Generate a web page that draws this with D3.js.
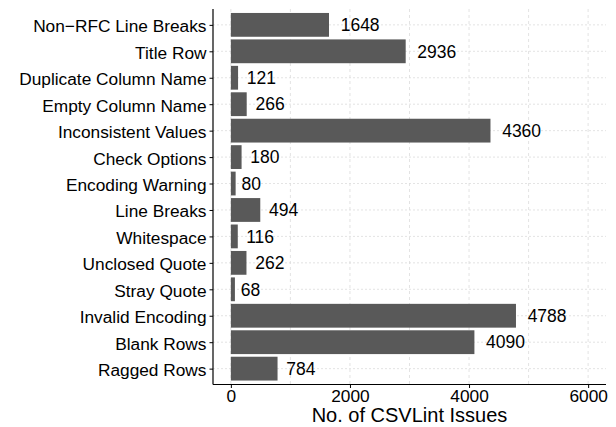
<!DOCTYPE html>
<html><head><meta charset="utf-8">
<script src="https://cdn.jsdelivr.net/npm/d3@7"></script>
<style>body{margin:0;background:#fff}svg{display:block}</style>
</head><body>
<svg id="c" width="616" height="427" font-family="Liberation Sans"></svg>
<script>
const categories = ["Non\u2212RFC Line Breaks","Title Row","Duplicate Column Name","Empty Column Name","Inconsistent Values","Check Options","Encoding Warning","Line Breaks","Whitespace","Unclosed Quote","Stray Quote","Invalid Encoding","Blank Rows","Ragged Rows"];
const values = [1648,2936,121,266,4360,180,80,494,116,262,68,4788,4090,784];
const xTicks = [0,2000,4000,6000];
const xMinor = [1000,3000,5000];
const xTitle = "No. of CSVLint Issues";
const FONT = "Liberation Sans";

const svg = d3.select("#c");
const L=213, R=606, T=9, B=384.5;
const x = d3.scaleLinear().domain([-300,6300]).range([L,R]);
const n = categories.length;
const step = (B-T)/(n-1+1.2);
const y = d3.scalePoint().domain(categories).range([T+0.6*step, B-0.6*step]);
const bh = step*0.9;

const g = svg.append("g");
// grid
g.selectAll(".gm").data(xMinor.concat(xTicks)).join("line")
  .attr("x1",d=>x(d)).attr("x2",d=>x(d)).attr("y1",T).attr("y2",B)
  .attr("stroke","#dcdcdc").attr("stroke-width",0.8).attr("stroke-dasharray","3,3");
g.selectAll(".gh").data(categories).join("line")
  .attr("x1",L).attr("x2",R).attr("y1",d=>y(d)).attr("y2",d=>y(d))
  .attr("stroke","#dcdcdc").attr("stroke-width",0.8).attr("stroke-dasharray","2,2");
// bars
g.selectAll(".bar").data(values).join("rect")
  .attr("x",x(0)).attr("y",(d,i)=>y(categories[i])-bh/2)
  .attr("width",d=>x(d)-x(0)).attr("height",bh).attr("fill","#595959");
// labels
g.selectAll(".lab").data(values).join("text")
  .attr("x",d=>x(d)).attr("y",(d,i)=>y(categories[i]))
  .attr("dy","0.36em").attr("font-size",17.5).attr("font-family",FONT).attr("fill","#000")
  .text(d=>d)
  .each(function(){ const w=this.getComputedTextLength(); d3.select(this).attr("dx", w*0.3); });
// axes
const ya = svg.append("g").attr("transform",`translate(${L},0)`)
  .call(d3.axisLeft(y).tickSize(3.5).tickPadding(3));
ya.attr("font-family",FONT);
ya.select(".domain").attr("d",`M0,${T}V${B}`).attr("stroke","#000").attr("stroke-width",1.2);
ya.selectAll("text").attr("font-size",17.3).attr("font-family",FONT).attr("fill","#000").attr("dy","0.4em");
ya.selectAll(".tick line").attr("stroke","#000");
const xa = svg.append("g").attr("transform",`translate(0,${B})`)
  .call(d3.axisBottom(x).tickValues(xTicks).tickFormat(d3.format("d")).tickSize(3.5).tickPadding(1.5));
xa.attr("font-family",FONT);
xa.select(".domain").attr("d",`M${L},0H${R}`).attr("stroke","#000").attr("stroke-width",1.2);
xa.selectAll("text").attr("font-size",17.3).attr("font-family",FONT).attr("fill","#000");
xa.selectAll(".tick line").attr("stroke","#000");
svg.append("text").attr("x",(L+R)/2).attr("y",422).attr("text-anchor","middle")
  .attr("font-size",20).attr("font-family",FONT).attr("fill","#000").text(xTitle);
</script>
</body></html>
